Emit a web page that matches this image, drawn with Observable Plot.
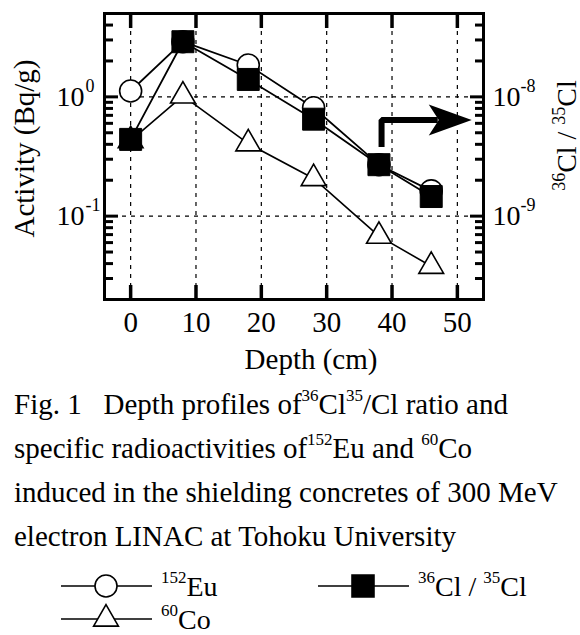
<!DOCTYPE html>
<html><head><meta charset="utf-8">
<script src="https://cdn.jsdelivr.net/npm/d3@7"></script>
<script src="https://cdn.jsdelivr.net/npm/@observablehq/plot@0.6"></script>
<style>
body{margin:0;background:#fff;color:#000;font-family:"Liberation Serif","Times New Roman",serif;}
#wrap{width:580px;position:relative;}
#chart svg{display:block;}
.caption{font-size:29px;line-height:44px;margin:2px 0 0 14px;white-space:nowrap;}
sup{font-size:17px;line-height:0;vertical-align:baseline;position:relative;top:-0.75em;}
#legend{position:relative;height:66px;margin-top:10px;}
.item{position:absolute;}
.lab{position:absolute;font-size:28px;line-height:28px;white-space:nowrap;}
</style></head><body>
<div id="wrap"><div id="chart"></div><div class="caption" id="caption"></div><div id="legend"></div></div>
<script>
// ---- data ----
const depth = [0, 8, 18, 28, 38, 46];                 // cm
const eu152 = [1.12, 2.9, 1.85, 0.81, 0.27, 0.163];    // Bq/g
const co60  = [0.43, 1.02, 0.405, 0.207, 0.068, 0.038]; // Bq/g
const cl36ratio = [4.4e-9, 2.9e-8, 1.4e-8, 6.5e-9, 2.7e-9, 1.46e-9]; // 36Cl/35Cl
const ratioFactor = 1e8;  // right axis: 10^-8 aligned with 10^0
const xTicks = [0, 10, 20, 30, 40, 50];
const decades = [0.1, 1];
const leftExp = ["-1", "0"];
const rightExp = ["-9", "-8"];
const arrowShaftX = [38.4, 38.4, 47];
const arrowShaftY = [0.38, 0.64, 0.64];
const arrowTip = {x: 52.2, y: 0.64};

const rows = depth.map((d, i) => ({depth: d, eu: eu152[i], co: co60[i], cl: cl36ratio[i] * ratioFactor}));
const shaft = arrowShaftX.map((x, i) => ({x, y: arrowShaftY[i]}));
const minor = [];
for (const k of [-2, -1, 0]) for (let m = 2; m <= 9; m++) { const v = m * 10 ** k; if (v >= 0.02 && v <= 5) minor.push(+v.toPrecision(3)); }

const arrowHead = {draw(ctx) { ctx.moveTo(0, 0); ctx.lineTo(-43, -15.5); ctx.lineTo(-33, 0); ctx.lineTo(-43, 15.5); ctx.closePath(); }};

const K = "#000";
const grid = {stroke: K, strokeOpacity: 1, strokeWidth: 1.2, strokeDasharray: "4,5"};
const chart = Plot.plot({
  width: 580, height: 380,
  marginLeft: 104, marginRight: 97, marginTop: 13, marginBottom: 81,
  style: {fontFamily: '"Liberation Serif","Times New Roman",serif', fontSize: "28px", color: K, background: "#fff", overflow: "visible"},
  x: {domain: [-4, 54]},
  y: {type: "log", domain: [0.02, 5]},
  marks: [
    Plot.gridX(xTicks, grid),
    Plot.gridY(decades, grid),
    Plot.line(rows, {x: "depth", y: "co", stroke: K, strokeWidth: 1.6}),
    Plot.line(rows, {x: "depth", y: "eu", stroke: K, strokeWidth: 1.8}),
    Plot.line(rows, {x: "depth", y: "cl", stroke: K, strokeWidth: 1.8}),
    Plot.line(shaft, {x: "x", y: "y", stroke: K, strokeWidth: 6, strokeLinejoin: "miter", strokeLinecap: "butt"}),
    Plot.dot([arrowTip], {x: "x", y: "y", symbol: arrowHead, fill: K, stroke: null, r: 10}),
    Plot.dot(rows, {x: "depth", y: "eu", r: 11, symbol: "circle", fill: "#fff", stroke: K, strokeWidth: 1.6}),
    Plot.dot(rows, {x: "depth", y: "co", r: 9.2, symbol: "triangle", fill: "#fff", stroke: K, strokeWidth: 1.6}),
    Plot.dot(rows, {x: "depth", y: "cl", r: 12.4, symbol: "square", fill: K, stroke: K, strokeWidth: 1}),
    Plot.frame({stroke: K, strokeWidth: 3}),
    // inward ticks
    Plot.axisX(xTicks, {anchor: "bottom", tickSize: -14, strokeWidth: 3.5, fill: "none", label: null}),
    Plot.axisX(xTicks, {anchor: "top", tickSize: -14, strokeWidth: 3.5, fill: "none", label: null}),
    Plot.axisY(decades, {anchor: "left", tickSize: -14, strokeWidth: 3, fill: "none", label: null}),
    Plot.axisY(minor, {anchor: "left", tickSize: -9, strokeWidth: 3, fill: "none", label: null}),
    Plot.axisY(decades, {anchor: "right", tickSize: -14, strokeWidth: 3, fill: "none", label: null}),
    Plot.axisY(minor, {anchor: "right", tickSize: -9, strokeWidth: 3, fill: "none", label: null}),
    // tick labels
    Plot.axisX(xTicks, {anchor: "bottom", tickSize: 0, tickPadding: 12, fontSize: 29, label: null}),
    Plot.axisY(decades, {anchor: "left", tickSize: 0, tickPadding: 20, tickFormat: () => "10", fontSize: 28, label: null}),
    Plot.axisY(decades, {anchor: "left", tickSize: 0, tickPadding: 19, textAnchor: "start", tickFormat: (d) => leftExp[decades.indexOf(d)], fontSize: 18, dy: -11, label: null}),
    Plot.axisY(decades, {anchor: "right", tickSize: 0, tickPadding: 9, tickFormat: () => "10", fontSize: 28, label: null}),
    Plot.axisY(decades, {anchor: "right", tickSize: 0, tickPadding: 37, tickFormat: (d) => rightExp[decades.indexOf(d)], fontSize: 18, dy: -11, label: null}),
    // axis titles
    Plot.text(["Depth (cm)"], {frameAnchor: "bottom", dy: 69, dx: 17, lineAnchor: "bottom", textAnchor: "middle", fontSize: 29}),
    Plot.text(["Activity (Bq/g)"], {frameAnchor: "left", rotate: -90, dx: -71, dy: -8, lineAnchor: "bottom", textAnchor: "middle", fontSize: 29}),
    Plot.text(["36Cl / 35Cl"], {frameAnchor: "right", rotate: -90, dx: 92, dy: -21, lineAnchor: "bottom", textAnchor: "middle", fontSize: 28})
  ]
});
document.getElementById("chart").append(chart);

// superscripts in the right axis title
for (const t of chart.querySelectorAll("text")) {
  if (t.textContent === "36Cl / 35Cl") {
    t.textContent = "";
    const parts = [["36", true], ["Cl / ", false], ["35", true], ["Cl", false]];
    let up = false;
    for (const [s, sup] of parts) {
      const ts = document.createElementNS("http://www.w3.org/2000/svg", "tspan");
      ts.textContent = s;
      ts.setAttribute("font-size", sup ? 18 : 28);
      const dy = sup && !up ? -11 : (!sup && up ? 11 : 0);
      if (dy) ts.setAttribute("dy", dy);
      up = sup;
      t.append(ts);
    }
  }
}

// caption
const captionLines = [
  'Fig. 1&nbsp;&nbsp; Depth profiles of<sup>36</sup>Cl<sup>35</sup>/Cl ratio and',
  'specific radioactivities of<sup>152</sup>Eu and <sup>60</sup>Co',
  'induced in the shielding concretes of 300 MeV',
  'electron LINAC at Tohoku University'
];
document.getElementById("caption").innerHTML = captionLines.join("<br>");

// legend
const legendItems = [
  {sup: "152", name: "Eu", symbol: d3.symbolCircle, r: 11, fill: "#fff", left: 59, top: 0},
  {sup: "36", name: "Cl / <sup>35</sup>Cl", symbol: d3.symbolSquare, r: 12.4, fill: K, left: 316, top: 0},
  {sup: "60", name: "Co", symbol: d3.symbolTriangle, r: 9.2, fill: "#fff", left: 59, top: 33}
];
const leg = d3.select("#legend");
for (const it of legendItems) {
  const s = leg.append("svg").attr("class", "item").attr("width", 96).attr("height", 36)
    .style("left", it.left + "px").style("top", it.top + "px");
  s.append("line").attr("x1", 2).attr("x2", 93).attr("y1", 18).attr("y2", 18).attr("stroke", K).attr("stroke-width", 1.6);
  s.append("path").attr("transform", "translate(47,18)")
    .attr("d", d3.symbol(it.symbol, Math.PI * it.r * it.r)())
    .attr("fill", it.fill).attr("stroke", K).attr("stroke-width", 1.6);
  leg.append("div").attr("class", "lab").style("left", (it.left + 102) + "px").style("top", (it.top + 5) + "px")
    .html(`<sup>${it.sup}</sup>${it.name}`);
}
</script></body></html>
